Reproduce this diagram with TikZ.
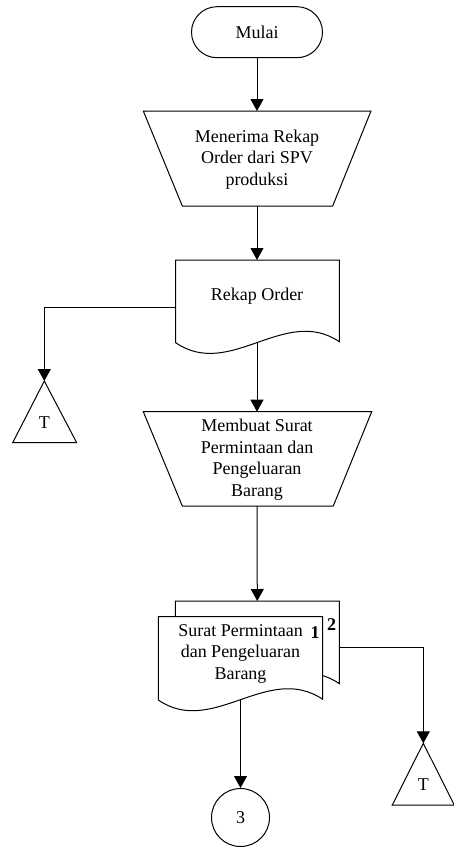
\documentclass[tikz,border=0pt]{standalone}
\usepackage{fontspec}
\setmainfont{Liberation Serif}
\usetikzlibrary{arrows.meta}
\begin{document}
\begin{tikzpicture}[x=1pt,y=-1pt,
  shapeline/.style={draw=black, line width=1pt, fill=white, line join=miter},
  flow/.style={draw=black, line width=1pt, -{Triangle[length=12pt,width=13pt]}},
  lbl/.style={font=\fontsize{18}{21.5}\selectfont, align=center, inner sep=0pt},
  num/.style={font=\fontsize{18}{21.5}\selectfont\bfseries, inner sep=0pt}]
\useasboundingbox (0,0) rectangle (454,847);

% Start terminator
\node[draw, line width=1pt, rounded corners=25.5pt, minimum width=131pt, minimum height=51pt, lbl] (start) at (257,32.2) {Mulai};

% Manual operation 1
\draw[shapeline] (143.3,111) -- (371,111) -- (332.7,206) -- (182.3,206) -- cycle;
\coordinate (t1top) at (257,111);
\coordinate (t1bot) at (257,206);
\node[lbl] (t1) at (257,159.5) {Menerima Rekap\\Order dari SPV\\produksi};

% Document Rekap Order
\draw[shapeline] (175.7,342.7) -- (175.7,260) -- (339.3,260) -- (339.3,341.7)
  .. controls (285,305) and (230,380) .. (175.7,342.7) -- cycle;
\coordinate (d1top) at (257,260);
\coordinate (d1bot) at (257,342.4);
\coordinate (d1left) at (175.7,307.3);
\node[lbl] (d1) at (257,296) {Rekap Order};

% Off-page triangle 1
\draw[shapeline] (44.3,381) -- (76.7,442.7) -- (12.7,442.7) -- cycle;
\coordinate (tri1) at (44.3,381);
\node[lbl] (tri1txt) at (44.3,422.5) {T};

% Manual operation 2
\draw[shapeline] (143.3,411.7) -- (371.7,411.7) -- (333.3,506) -- (182.3,506) -- cycle;
\coordinate (t2top) at (257,411.7);
\coordinate (t2bot) at (257,506);
\node[lbl] (t2) at (257,459.5) {Membuat Surat\\Permintaan dan\\Pengeluaran\\Barang};

% Multi-document: back sheet
\draw[shapeline] (175.3,684.3) -- (175.3,601) -- (339.3,601) -- (339.3,683.6)
  .. controls (284.6,646.6) and (229.6,721.6) .. (175.3,684.3) -- cycle;
% front sheet
\draw[shapeline] (158.3,700) -- (158.3,616.7) -- (322.7,616.7) -- (322.7,699.3)
  .. controls (267.6,662.3) and (212.6,737.3) .. (158.3,700) -- cycle;
\coordinate (ddtop) at (257.3,601);
\coordinate (ddright) at (339.3,647.7);
\coordinate (fdbot) at (240.5,699.4);
\node[lbl] (dd) at (240.5,653.5) {Surat Permintaan\\dan Pengeluaran\\Barang};
\node[num] (n1) at (315,632.5) {1};
\node[num] (n2) at (331.7,625) {2};

% Off-page triangle 2
\draw[shapeline] (423.3,743.3) -- (454.3,805) -- (392.3,805) -- cycle;
\coordinate (tri2) at (423.3,743.3);
\node[lbl] (tri2txt) at (423.3,785) {T};

% Connector circle
\node[draw, line width=1pt, circle, minimum size=58pt, inner sep=0pt, lbl] (c3) at (240.5,817.5) {3};

% Connectors
\draw[flow] (start.south) -- (t1top);
\draw[flow] (t1bot) -- (d1top);
\draw[flow] (d1left) -| (tri1);
\draw[flow] (d1bot) -- (t2top);
\draw[flow] (t2bot) -- (ddtop);
\draw[flow] (ddright) -| (tri2);
\draw[flow] (fdbot) -- (c3.north);
\end{tikzpicture}
\end{document}
